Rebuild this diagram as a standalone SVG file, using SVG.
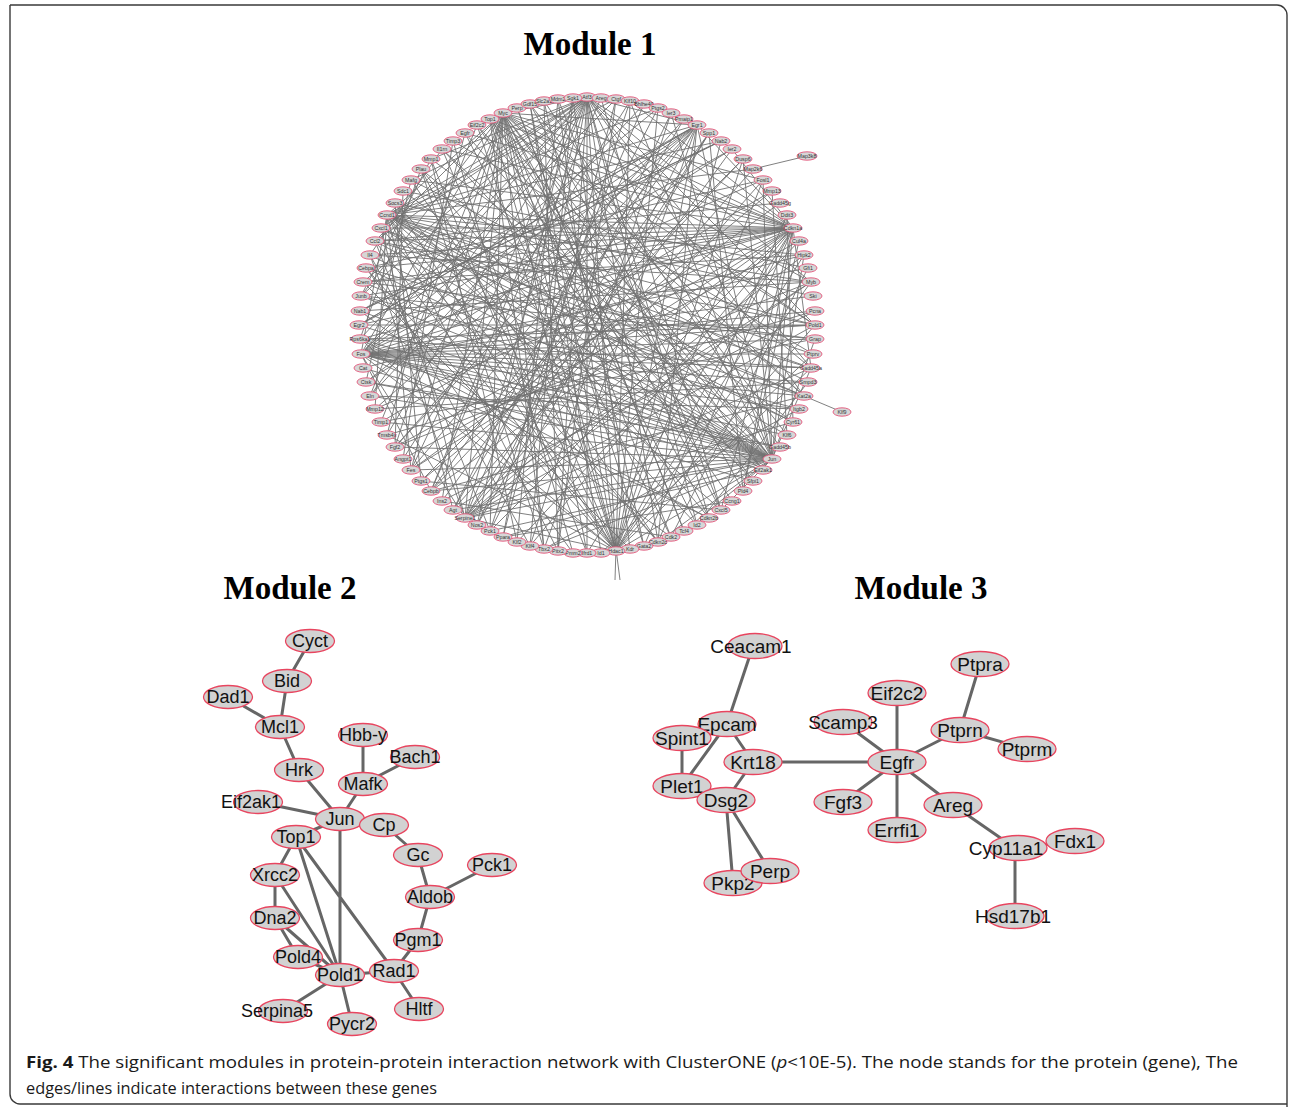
<svg xmlns="http://www.w3.org/2000/svg" width="1290" height="1107" viewBox="0 0 1290 1107">
<style>
.bg{fill:#fff}
.frame{fill:none;stroke:#3a3a3a;stroke-width:1.4}
.title{font-family:"Liberation Serif","Times New Roman",serif;font-weight:bold;font-size:33px;fill:#000;text-anchor:middle}
.e1{fill:none;stroke:#727272;stroke-width:0.9}
.m1 ellipse{fill:#d6d6d6;stroke:#e4567a;stroke-width:0.9}
.m1 text{font-family:"Liberation Sans",Arial,sans-serif;font-size:5.3px;fill:#333;text-anchor:middle;dominant-baseline:central}
.e2{fill:none;stroke:#666;stroke-width:3}
.m2 ellipse{fill:#d2d2d2;stroke:#e8455f;stroke-width:1.3}
.m2 text{font-family:"Liberation Sans",Arial,sans-serif;font-size:18px;fill:#111;text-anchor:middle;dominant-baseline:central}
.m3 ellipse{fill:#d2d2d2;stroke:#e8455f;stroke-width:1.3}
.m3 text{font-family:"Liberation Sans",Arial,sans-serif;font-size:19px;fill:#111;text-anchor:middle;dominant-baseline:central}
.cap{font-family:"Open Sans","Noto Sans","Liberation Sans",sans-serif;font-size:16.5px;fill:#1a1a1a}
</style>
<rect class="bg" x="0" y="0" width="1290" height="1107"/>
<path class="frame" d="M10 5 H1277 A10 10 0 0 1 1287 15 V1107 M10 5 V1094 A10 10 0 0 0 20 1104 H1287"/>

<text class="title" x="590" y="55">Module 1</text>
<text class="title" x="290" y="599">Module 2</text>
<text class="title" x="921" y="599">Module 3</text>

<g id="module1-edges">
<path class="e1" d="M387 215L587 97M387 215L697 125M387 215L793 228M387 215L815 325M387 215L804 396M387 215L772 459M387 215L616 551M387 215L465 518M387 215L503 113M387 215L361 354M387 215L721 510M387 215L811 368M387 215L753 169M387 215L811 282M387 215L658 542M387 215L558 551M387 215L658 108M387 215L793 422M387 215L763 470M387 215L804 255M387 215L721 141M387 215L411 470M387 215L375 409M387 215L616 99M387 215L813 354M387 215L787 435"/>
<path class="e1" d="M361 354L587 97M361 354L697 125M361 354L793 228M361 354L815 325M361 354L811 368M361 354L804 396M361 354L772 459M361 354L763 470M361 354L616 551M361 354L503 113M361 354L732 149M361 354L763 180M361 354L808 268M361 354L813 296M361 354L815 339M361 354L813 354M361 354L799 409M361 354L787 435M361 354L709 518M361 354L465 518M361 354L431 491M361 354L658 108M361 354L616 99M361 354L815 311M361 354L808 382M361 354L780 447"/>
<path class="e1" d="M360 339L772 459M360 339L815 325M360 339L793 228M360 339L587 97M360 339L616 551M360 339L811 368M359 325L721 141M359 325L697 125M359 325L772 459M359 325L793 228M359 325L815 325M360 311L721 141M360 311L697 125M360 311L811 282M360 311L772 459M361 296L772 459M361 296L587 97M361 296L793 228M361 296L815 339M361 296L503 113M363 282L793 228M363 282L772 459M363 282L587 97M363 282L804 255M366 268L793 228M366 268L772 459M366 268L804 396M366 268L616 551M370 255L772 459M370 255L793 228M370 255L465 518M370 255L811 282M375 241L793 228M375 241L772 459M375 241L815 325M375 241L587 97M375 241L616 551M375 241L503 113M375 241L811 368M381 228L793 228M381 228L772 459M381 228L587 97M381 228L804 396M381 228L658 542M381 228L793 422"/>
<path class="e1" d="M772 459L587 97M772 459L503 113M772 459L465 518M772 459L616 551M772 459L431 491M772 459L411 470M772 459L381 422M772 459L370 396M772 459L503 537M772 459L793 228M772 459L697 125M772 459L743 159M772 459L763 180M772 459L811 368M772 459L815 339M772 459L804 255M772 459L477 125M772 459L421 169M772 459L544 549M772 459L658 542M772 459L684 531M772 459L721 510M772 459L403 191M772 459L442 149M772 459L453 510M772 459L395 447M772 459L366 382M772 459L630 101M772 459L671 113"/>
<path class="e1" d="M793 228L587 97M793 228L503 113M793 228L616 551M793 228L465 518M793 228L490 119M793 228L442 149M793 228L375 409M793 228L411 470M793 228L490 531M793 228L811 368M793 228L658 542M793 228L587 553M793 228L411 180M793 228L697 125M793 228L630 101M793 228L732 149M793 228L431 491M793 228L395 447M793 228L530 546M793 228L465 133M793 228L530 104M793 228L721 510M793 228L743 491"/>
<path class="e1" d="M587 97L616 551M587 97L465 518M587 97L558 551M587 97L658 542M587 97L697 525M587 97L431 491M587 97L387 435M587 97L811 368M587 97L811 282M587 97L697 125M587 97L503 113M587 97L431 159M587 97L587 553M587 97L503 537M587 97L411 470M587 97L709 518M587 97L804 396M587 97L815 325M587 97L370 396M587 97L411 180"/>
<path class="e1" d="M503 113L616 551M503 113L815 325M503 113L811 368M503 113L804 396M503 113L811 282M503 113L709 518M503 113L644 546M503 113L544 549M503 113L465 518M503 113L411 470M503 113L381 422M503 113L697 125M503 113L763 180M503 113L763 470M503 113L721 510M503 113L671 537M503 113L587 553M503 113L490 531M503 113L442 501M503 113L395 447"/>
<path class="e1" d="M616 551L477 125M616 551L442 149M616 551L811 282M616 551L811 368M616 551L387 435M616 551L743 159M616 551L658 108M616 551L697 125M616 551L465 518M616 551L421 169M616 551L395 203M616 551L763 180M616 551L804 255M616 551L815 325M616 551L530 104M616 551L721 141M558 99L620 580M630 101L615 580"/>
<path class="e1" d="M465 518L815 325M465 518L732 149M465 518L644 104M465 518L811 282M465 518L811 368M465 518L793 422M465 518L763 180M465 518L709 133M465 518L804 255M697 125L490 531M697 125L411 470M697 125L658 542M697 125L431 491M697 125L359 325M697 125L395 447M697 125L375 409M697 125L544 549M697 125L366 382M490 119L772 459M490 119L815 325M490 119L616 551M490 119L697 525M490 119L544 549M490 119L804 396M490 119L753 481"/>
<path class="e1" d="M616 99L558 551M630 101L403 459M644 104L370 396M658 108L453 510M671 113L530 546M684 119L395 447M709 133L477 525M721 141L360 311M732 149L366 382M743 159L421 481M753 169L453 510M763 180L366 268M772 191L381 422M780 203L375 241M787 215L644 546M799 241L517 542M804 255L363 368M808 268L403 191M811 282L453 510M813 296L395 203M815 311L442 501M815 339L363 282M813 354L453 141M808 382L411 180M804 396L431 491M799 409L361 296M793 422L431 159M787 435L530 104M780 447L544 101M763 470L465 133M753 481L442 149M743 491L530 104M732 501L477 125M721 510L558 99M709 518L421 169M697 525L395 203M684 531L517 108M671 537L465 133M658 542L411 180M644 546L544 101M630 549L573 98M601 553L530 104M587 553L431 159M573 553L453 141M558 551L544 101M544 549L421 169M530 546L573 98M517 542L431 159M503 537L616 99M490 531L630 101M477 525L671 113M453 510L684 119M442 501L709 133M431 491L743 159M421 481L772 191M411 470L780 203M403 459L799 241M395 447L811 282M387 435L815 311M381 422L815 339M375 409L808 382M370 396L799 409M366 382L780 447M363 368L753 481M360 339L709 518M360 311L671 537M363 282L630 549M366 268L573 553M370 255L530 546M375 241L490 531M381 228L453 510M395 203L421 481M403 191L395 447M411 180L366 382M421 169L360 339M431 159L361 296M442 149L370 255M453 141L403 459M465 133L387 435M477 125L370 396M517 108L684 531M558 99L517 542M573 98L477 525M601 98L721 510M601 98L431 491M709 133L743 491M772 191L787 435M787 215L793 422M799 241L743 491M808 268L671 537M813 354L601 553M808 382L697 525M799 409L544 549M763 470L490 531M732 501L503 537M721 510L421 481M671 537L442 501"/>
<path class="e1" d="M753 169L807 156M804 396L842 412"/>
</g>

<g id="module1-nodes">
<g id="m1-Atf3" class="m1"><ellipse cx="587" cy="97" rx="9" ry="4.2"/><text x="587" y="97">Atf3</text></g>
<g id="m1-Areg" class="m1"><ellipse cx="601" cy="98" rx="9" ry="4.2"/><text x="601" y="98">Areg</text></g>
<g id="m1-Ctgf" class="m1"><ellipse cx="616" cy="99" rx="9" ry="4.2"/><text x="616" y="99">Ctgf</text></g>
<g id="m1-Klf10" class="m1"><ellipse cx="630" cy="101" rx="9" ry="4.2"/><text x="630" y="101">Klf10</text></g>
<g id="m1-Bhlhe40" class="m1"><ellipse cx="644" cy="104" rx="9" ry="4.2"/><text x="644" y="104">Bhlhe40</text></g>
<g id="m1-Ptgs2" class="m1"><ellipse cx="658" cy="108" rx="9" ry="4.2"/><text x="658" y="108">Ptgs2</text></g>
<g id="m1-Ier3" class="m1"><ellipse cx="671" cy="113" rx="9" ry="4.2"/><text x="671" y="113">Ier3</text></g>
<g id="m1-Pmaip1" class="m1"><ellipse cx="684" cy="119" rx="9" ry="4.2"/><text x="684" y="119">Pmaip1</text></g>
<g id="m1-Egr1" class="m1"><ellipse cx="697" cy="125" rx="9" ry="4.2"/><text x="697" y="125">Egr1</text></g>
<g id="m1-Spp1" class="m1"><ellipse cx="709" cy="133" rx="9" ry="4.2"/><text x="709" y="133">Spp1</text></g>
<g id="m1-Nab2" class="m1"><ellipse cx="721" cy="141" rx="9" ry="4.2"/><text x="721" y="141">Nab2</text></g>
<g id="m1-Ier2" class="m1"><ellipse cx="732" cy="149" rx="9" ry="4.2"/><text x="732" y="149">Ier2</text></g>
<g id="m1-Dusp6" class="m1"><ellipse cx="743" cy="159" rx="9" ry="4.2"/><text x="743" y="159">Dusp6</text></g>
<g id="m1-Map2k6" class="m1"><ellipse cx="753" cy="169" rx="9" ry="4.2"/><text x="753" y="169">Map2k6</text></g>
<g id="m1-Fosl1" class="m1"><ellipse cx="763" cy="180" rx="9" ry="4.2"/><text x="763" y="180">Fosl1</text></g>
<g id="m1-Mmp13" class="m1"><ellipse cx="772" cy="191" rx="9" ry="4.2"/><text x="772" y="191">Mmp13</text></g>
<g id="m1-Gadd45g" class="m1"><ellipse cx="780" cy="203" rx="9" ry="4.2"/><text x="780" y="203">Gadd45g</text></g>
<g id="m1-Ddit3" class="m1"><ellipse cx="787" cy="215" rx="9" ry="4.2"/><text x="787" y="215">Ddit3</text></g>
<g id="m1-Cdkn1a" class="m1"><ellipse cx="793" cy="228" rx="9" ry="4.2"/><text x="793" y="228">Cdkn1a</text></g>
<g id="m1-Cul4a" class="m1"><ellipse cx="799" cy="241" rx="9" ry="4.2"/><text x="799" y="241">Cul4a</text></g>
<g id="m1-Hipk2" class="m1"><ellipse cx="804" cy="255" rx="9" ry="4.2"/><text x="804" y="255">Hipk2</text></g>
<g id="m1-Gfi1" class="m1"><ellipse cx="808" cy="268" rx="9" ry="4.2"/><text x="808" y="268">Gfi1</text></g>
<g id="m1-Myb" class="m1"><ellipse cx="811" cy="282" rx="9" ry="4.2"/><text x="811" y="282">Myb</text></g>
<g id="m1-Ski" class="m1"><ellipse cx="813" cy="296" rx="9" ry="4.2"/><text x="813" y="296">Ski</text></g>
<g id="m1-Pcna" class="m1"><ellipse cx="815" cy="311" rx="9" ry="4.2"/><text x="815" y="311">Pcna</text></g>
<g id="m1-Pold1" class="m1"><ellipse cx="815" cy="325" rx="9" ry="4.2"/><text x="815" y="325">Pold1</text></g>
<g id="m1-Grap" class="m1"><ellipse cx="815" cy="339" rx="9" ry="4.2"/><text x="815" y="339">Grap</text></g>
<g id="m1-Ptprv" class="m1"><ellipse cx="813" cy="354" rx="9" ry="4.2"/><text x="813" y="354">Ptprv</text></g>
<g id="m1-Gadd45a" class="m1"><ellipse cx="811" cy="368" rx="9" ry="4.2"/><text x="811" y="368">Gadd45a</text></g>
<g id="m1-Smpd3" class="m1"><ellipse cx="808" cy="382" rx="9" ry="4.2"/><text x="808" y="382">Smpd3</text></g>
<g id="m1-Kat2a" class="m1"><ellipse cx="804" cy="396" rx="9" ry="4.2"/><text x="804" y="396">Kat2a</text></g>
<g id="m1-Itgb2" class="m1"><ellipse cx="799" cy="409" rx="9" ry="4.2"/><text x="799" y="409">Itgb2</text></g>
<g id="m1-Cyr61" class="m1"><ellipse cx="793" cy="422" rx="9" ry="4.2"/><text x="793" y="422">Cyr61</text></g>
<g id="m1-Klf6" class="m1"><ellipse cx="787" cy="435" rx="9" ry="4.2"/><text x="787" y="435">Klf6</text></g>
<g id="m1-Gadd45b" class="m1"><ellipse cx="780" cy="447" rx="9" ry="4.2"/><text x="780" y="447">Gadd45b</text></g>
<g id="m1-Jun" class="m1"><ellipse cx="772" cy="459" rx="9" ry="4.2"/><text x="772" y="459">Jun</text></g>
<g id="m1-Eif2ak1" class="m1"><ellipse cx="763" cy="470" rx="9" ry="4.2"/><text x="763" y="470">Eif2ak1</text></g>
<g id="m1-Sfpi1" class="m1"><ellipse cx="753" cy="481" rx="9" ry="4.2"/><text x="753" y="481">Sfpi1</text></g>
<g id="m1-Pld4" class="m1"><ellipse cx="743" cy="491" rx="9" ry="4.2"/><text x="743" y="491">Pld4</text></g>
<g id="m1-Ccng1" class="m1"><ellipse cx="732" cy="501" rx="9" ry="4.2"/><text x="732" y="501">Ccng1</text></g>
<g id="m1-Cxcl5" class="m1"><ellipse cx="721" cy="510" rx="9" ry="4.2"/><text x="721" y="510">Cxcl5</text></g>
<g id="m1-Cdkn2b" class="m1"><ellipse cx="709" cy="518" rx="9" ry="4.2"/><text x="709" y="518">Cdkn2b</text></g>
<g id="m1-Id2" class="m1"><ellipse cx="697" cy="525" rx="9" ry="4.2"/><text x="697" y="525">Id2</text></g>
<g id="m1-Tcf4" class="m1"><ellipse cx="684" cy="531" rx="9" ry="4.2"/><text x="684" y="531">Tcf4</text></g>
<g id="m1-Cdk2" class="m1"><ellipse cx="671" cy="537" rx="9" ry="4.2"/><text x="671" y="537">Cdk2</text></g>
<g id="m1-Cdkn2c" class="m1"><ellipse cx="658" cy="542" rx="9" ry="4.2"/><text x="658" y="542">Cdkn2c</text></g>
<g id="m1-Gata2" class="m1"><ellipse cx="644" cy="546" rx="9" ry="4.2"/><text x="644" y="546">Gata2</text></g>
<g id="m1-Kdr" class="m1"><ellipse cx="630" cy="549" rx="9" ry="4.2"/><text x="630" y="549">Kdr</text></g>
<g id="m1-Hdac1" class="m1"><ellipse cx="616" cy="551" rx="9" ry="4.2"/><text x="616" y="551">Hdac1</text></g>
<g id="m1-Id1" class="m1"><ellipse cx="601" cy="553" rx="9" ry="4.2"/><text x="601" y="553">Id1</text></g>
<g id="m1-Ifrd1" class="m1"><ellipse cx="587" cy="553" rx="9" ry="4.2"/><text x="587" y="553">Ifrd1</text></g>
<g id="m1-Pmm2" class="m1"><ellipse cx="573" cy="553" rx="9" ry="4.2"/><text x="573" y="553">Pmm2</text></g>
<g id="m1-Pitx2" class="m1"><ellipse cx="558" cy="551" rx="9" ry="4.2"/><text x="558" y="551">Pitx2</text></g>
<g id="m1-Tbx2" class="m1"><ellipse cx="544" cy="549" rx="9" ry="4.2"/><text x="544" y="549">Tbx2</text></g>
<g id="m1-Klf4" class="m1"><ellipse cx="530" cy="546" rx="9" ry="4.2"/><text x="530" y="546">Klf4</text></g>
<g id="m1-Klf2" class="m1"><ellipse cx="517" cy="542" rx="9" ry="4.2"/><text x="517" y="542">Klf2</text></g>
<g id="m1-Ppara" class="m1"><ellipse cx="503" cy="537" rx="9" ry="4.2"/><text x="503" y="537">Ppara</text></g>
<g id="m1-Pck1" class="m1"><ellipse cx="490" cy="531" rx="9" ry="4.2"/><text x="490" y="531">Pck1</text></g>
<g id="m1-Nos2" class="m1"><ellipse cx="477" cy="525" rx="9" ry="4.2"/><text x="477" y="525">Nos2</text></g>
<g id="m1-Serpine1" class="m1"><ellipse cx="465" cy="518" rx="9" ry="4.2"/><text x="465" y="518">Serpine1</text></g>
<g id="m1-Agt" class="m1"><ellipse cx="453" cy="510" rx="9" ry="4.2"/><text x="453" y="510">Agt</text></g>
<g id="m1-Ins2" class="m1"><ellipse cx="442" cy="501" rx="9" ry="4.2"/><text x="442" y="501">Ins2</text></g>
<g id="m1-Cebpb" class="m1"><ellipse cx="431" cy="491" rx="9" ry="4.2"/><text x="431" y="491">Cebpb</text></g>
<g id="m1-Ptgs1" class="m1"><ellipse cx="421" cy="481" rx="9" ry="4.2"/><text x="421" y="481">Ptgs1</text></g>
<g id="m1-Fes" class="m1"><ellipse cx="411" cy="470" rx="9" ry="4.2"/><text x="411" y="470">Fes</text></g>
<g id="m1-Angpt1" class="m1"><ellipse cx="403" cy="459" rx="9" ry="4.2"/><text x="403" y="459">Angpt1</text></g>
<g id="m1-Fgf2" class="m1"><ellipse cx="395" cy="447" rx="9" ry="4.2"/><text x="395" y="447">Fgf2</text></g>
<g id="m1-Tmsb4x" class="m1"><ellipse cx="387" cy="435" rx="9" ry="4.2"/><text x="387" y="435">Tmsb4x</text></g>
<g id="m1-Timp1" class="m1"><ellipse cx="381" cy="422" rx="9" ry="4.2"/><text x="381" y="422">Timp1</text></g>
<g id="m1-Mmp12" class="m1"><ellipse cx="375" cy="409" rx="9" ry="4.2"/><text x="375" y="409">Mmp12</text></g>
<g id="m1-Eln" class="m1"><ellipse cx="370" cy="396" rx="9" ry="4.2"/><text x="370" y="396">Eln</text></g>
<g id="m1-Ctsk" class="m1"><ellipse cx="366" cy="382" rx="9" ry="4.2"/><text x="366" y="382">Ctsk</text></g>
<g id="m1-Cat" class="m1"><ellipse cx="363" cy="368" rx="9" ry="4.2"/><text x="363" y="368">Cat</text></g>
<g id="m1-Fos" class="m1"><ellipse cx="361" cy="354" rx="9" ry="4.2"/><text x="361" y="354">Fos</text></g>
<g id="m1-Rps6ka1" class="m1"><ellipse cx="360" cy="339" rx="9" ry="4.2"/><text x="360" y="339">Rps6ka1</text></g>
<g id="m1-Egr2" class="m1"><ellipse cx="359" cy="325" rx="9" ry="4.2"/><text x="359" y="325">Egr2</text></g>
<g id="m1-Nab1" class="m1"><ellipse cx="360" cy="311" rx="9" ry="4.2"/><text x="360" y="311">Nab1</text></g>
<g id="m1-Junb" class="m1"><ellipse cx="361" cy="296" rx="9" ry="4.2"/><text x="361" y="296">Junb</text></g>
<g id="m1-Crem" class="m1"><ellipse cx="363" cy="282" rx="9" ry="4.2"/><text x="363" y="282">Crem</text></g>
<g id="m1-Cebpa" class="m1"><ellipse cx="366" cy="268" rx="9" ry="4.2"/><text x="366" y="268">Cebpa</text></g>
<g id="m1-Il4" class="m1"><ellipse cx="370" cy="255" rx="9" ry="4.2"/><text x="370" y="255">Il4</text></g>
<g id="m1-Ccl2" class="m1"><ellipse cx="375" cy="241" rx="9" ry="4.2"/><text x="375" y="241">Ccl2</text></g>
<g id="m1-Cxcl1" class="m1"><ellipse cx="381" cy="228" rx="9" ry="4.2"/><text x="381" y="228">Cxcl1</text></g>
<g id="m1-Ccnd1" class="m1"><ellipse cx="387" cy="215" rx="9" ry="4.2"/><text x="387" y="215">Ccnd1</text></g>
<g id="m1-Socs3" class="m1"><ellipse cx="395" cy="203" rx="9" ry="4.2"/><text x="395" y="203">Socs3</text></g>
<g id="m1-Sdc1" class="m1"><ellipse cx="403" cy="191" rx="9" ry="4.2"/><text x="403" y="191">Sdc1</text></g>
<g id="m1-Mafg" class="m1"><ellipse cx="411" cy="180" rx="9" ry="4.2"/><text x="411" y="180">Mafg</text></g>
<g id="m1-Plau" class="m1"><ellipse cx="421" cy="169" rx="9" ry="4.2"/><text x="421" y="169">Plau</text></g>
<g id="m1-Mmp1" class="m1"><ellipse cx="431" cy="159" rx="9" ry="4.2"/><text x="431" y="159">Mmp1</text></g>
<g id="m1-Il1rn" class="m1"><ellipse cx="442" cy="149" rx="9" ry="4.2"/><text x="442" y="149">Il1rn</text></g>
<g id="m1-Timp3" class="m1"><ellipse cx="453" cy="141" rx="9" ry="4.2"/><text x="453" y="141">Timp3</text></g>
<g id="m1-Egfr" class="m1"><ellipse cx="465" cy="133" rx="9" ry="4.2"/><text x="465" y="133">Egfr</text></g>
<g id="m1-Eif2c2" class="m1"><ellipse cx="477" cy="125" rx="9" ry="4.2"/><text x="477" y="125">Eif2c2</text></g>
<g id="m1-Top1" class="m1"><ellipse cx="490" cy="119" rx="9" ry="4.2"/><text x="490" y="119">Top1</text></g>
<g id="m1-Myc" class="m1"><ellipse cx="503" cy="113" rx="9" ry="4.2"/><text x="503" y="113">Myc</text></g>
<g id="m1-Perp" class="m1"><ellipse cx="517" cy="108" rx="9" ry="4.2"/><text x="517" y="108">Perp</text></g>
<g id="m1-Gdf15" class="m1"><ellipse cx="530" cy="104" rx="9" ry="4.2"/><text x="530" y="104">Gdf15</text></g>
<g id="m1-Slc2a1" class="m1"><ellipse cx="544" cy="101" rx="9" ry="4.2"/><text x="544" y="101">Slc2a1</text></g>
<g id="m1-Mdm2" class="m1"><ellipse cx="558" cy="99" rx="9" ry="4.2"/><text x="558" y="99">Mdm2</text></g>
<g id="m1-Sgk1" class="m1"><ellipse cx="573" cy="98" rx="9" ry="4.2"/><text x="573" y="98">Sgk1</text></g>
<g id="m1-Map3k8" class="m1"><ellipse cx="807" cy="156" rx="10" ry="4.2"/><text x="807" y="156">Map3k8</text></g>
<g id="m1-Klf9" class="m1"><ellipse cx="842" cy="412" rx="9" ry="4.2"/><text x="842" y="412">Klf9</text></g>
</g>

<g id="module2-edges">
<path class="e2" d="M310 641L287 681M287 681L280 727M228 697L280 727M280 727L299 770M299 770L340 819M363 735L363 784M415 757L363 784M363 784L340 819M258 802L340 819M340 819L384 825M340 819L296 837M340 819L340 975M296 837L394 971M296 837L340 975M384 825L418 855M418 855L430 897M430 897L492 865M430 897L418 940M418 940L394 971M394 971L340 975M394 971L419 1009M296 837L275 875M275 875L275 918M275 875L340 975M275 918L298 957M275 918L340 975M298 957L340 975M340 975L283 1011M340 975L352 1024"/>
</g>
<g id="module2-nodes">
<g id="m2-Cyct" class="m2"><ellipse cx="310" cy="641" rx="24.5" ry="11.5"/><text x="310" y="641">Cyct</text></g>
<g id="m2-Bid" class="m2"><ellipse cx="287" cy="681" rx="24.5" ry="11.5"/><text x="287" y="681">Bid</text></g>
<g id="m2-Dad1" class="m2"><ellipse cx="228" cy="697" rx="24.5" ry="11.5"/><text x="228" y="697">Dad1</text></g>
<g id="m2-Mcl1" class="m2"><ellipse cx="280" cy="727" rx="24.5" ry="11.5"/><text x="280" y="727">Mcl1</text></g>
<g id="m2-Hbb-y" class="m2"><ellipse cx="363" cy="735" rx="24.5" ry="11.5"/><text x="363" y="735">Hbb-y</text></g>
<g id="m2-Bach1" class="m2"><ellipse cx="415" cy="757" rx="24.5" ry="11.5"/><text x="415" y="757">Bach1</text></g>
<g id="m2-Hrk" class="m2"><ellipse cx="299" cy="770" rx="24.5" ry="11.5"/><text x="299" y="770">Hrk</text></g>
<g id="m2-Mafk" class="m2"><ellipse cx="363" cy="784" rx="24.5" ry="11.5"/><text x="363" y="784">Mafk</text></g>
<g id="m2-Eif2ak1" class="m2"><ellipse cx="258" cy="802" rx="24.5" ry="11.5"/><text x="251" y="802">Eif2ak1</text></g>
<g id="m2-Jun" class="m2"><ellipse cx="340" cy="819" rx="24.5" ry="11.5"/><text x="340" y="819">Jun</text></g>
<g id="m2-Cp" class="m2"><ellipse cx="384" cy="825" rx="24.5" ry="11.5"/><text x="384" y="825">Cp</text></g>
<g id="m2-Top1" class="m2"><ellipse cx="296" cy="837" rx="24.5" ry="11.5"/><text x="296" y="837">Top1</text></g>
<g id="m2-Gc" class="m2"><ellipse cx="418" cy="855" rx="24.5" ry="11.5"/><text x="418" y="855">Gc</text></g>
<g id="m2-Pck1" class="m2"><ellipse cx="492" cy="865" rx="24.5" ry="11.5"/><text x="492" y="865">Pck1</text></g>
<g id="m2-Xrcc2" class="m2"><ellipse cx="275" cy="875" rx="24.5" ry="11.5"/><text x="275" y="875">Xrcc2</text></g>
<g id="m2-Aldob" class="m2"><ellipse cx="430" cy="897" rx="24.5" ry="11.5"/><text x="430" y="897">Aldob</text></g>
<g id="m2-Dna2" class="m2"><ellipse cx="275" cy="918" rx="24.5" ry="11.5"/><text x="275" y="918">Dna2</text></g>
<g id="m2-Pgm1" class="m2"><ellipse cx="418" cy="940" rx="24.5" ry="11.5"/><text x="418" y="940">Pgm1</text></g>
<g id="m2-Pold4" class="m2"><ellipse cx="298" cy="957" rx="24.5" ry="11.5"/><text x="298" y="957">Pold4</text></g>
<g id="m2-Rad1" class="m2"><ellipse cx="394" cy="971" rx="24.5" ry="11.5"/><text x="394" y="971">Rad1</text></g>
<g id="m2-Pold1" class="m2"><ellipse cx="340" cy="975" rx="24.5" ry="11.5"/><text x="340" y="975">Pold1</text></g>
<g id="m2-Hltf" class="m2"><ellipse cx="419" cy="1009" rx="24.5" ry="11.5"/><text x="419" y="1009">Hltf</text></g>
<g id="m2-Serpina5" class="m2"><ellipse cx="283" cy="1011" rx="24.5" ry="11.5"/><text x="277" y="1011">Serpina5</text></g>
<g id="m2-Pycr2" class="m2"><ellipse cx="352" cy="1024" rx="24.5" ry="11.5"/><text x="352" y="1024">Pycr2</text></g>
</g>

<g id="module3-edges">
<path class="e2" d="M753 646L727 724M727 724L682 786M727 724L753 762M682 738L682 786M753 762L726 800M753 762L897 762M726 800L733 883M726 800L770 871M843 722L897 762M897 693L897 762M843 802L897 762M897 830L897 762M897 762L960 730M960 730L980 664M960 730L1027 749M897 762L953 805M953 805L1015 848M1015 848L1075 841M1015 848L1015 916"/>
</g>
<g id="module3-nodes">
<g id="m3-Ceacam1" class="m3"><ellipse cx="755" cy="646" rx="27" ry="12.5"/><text x="751" y="646">Ceacam1</text></g>
<g id="m3-Epcam" class="m3"><ellipse cx="727" cy="724" rx="29" ry="12.5"/><text x="727" y="724">Epcam</text></g>
<g id="m3-Spint1" class="m3"><ellipse cx="682" cy="738" rx="29" ry="12.5"/><text x="682" y="738">Spint1</text></g>
<g id="m3-Krt18" class="m3"><ellipse cx="753" cy="762" rx="29" ry="12.5"/><text x="753" y="762">Krt18</text></g>
<g id="m3-Plet1" class="m3"><ellipse cx="682" cy="786" rx="29" ry="12.5"/><text x="682" y="786">Plet1</text></g>
<g id="m3-Dsg2" class="m3"><ellipse cx="726" cy="800" rx="29" ry="12.5"/><text x="726" y="800">Dsg2</text></g>
<g id="m3-Pkp2" class="m3"><ellipse cx="733" cy="883" rx="29" ry="12.5"/><text x="733" y="883">Pkp2</text></g>
<g id="m3-Perp" class="m3"><ellipse cx="770" cy="871" rx="29" ry="12.5"/><text x="770" y="871">Perp</text></g>
<g id="m3-Scamp3" class="m3"><ellipse cx="843" cy="722" rx="29" ry="12.5"/><text x="843" y="722">Scamp3</text></g>
<g id="m3-Eif2c2" class="m3"><ellipse cx="897" cy="693" rx="29" ry="12.5"/><text x="897" y="693">Eif2c2</text></g>
<g id="m3-Egfr" class="m3"><ellipse cx="897" cy="762" rx="29" ry="12.5"/><text x="897" y="762">Egfr</text></g>
<g id="m3-Fgf3" class="m3"><ellipse cx="843" cy="802" rx="29" ry="12.5"/><text x="843" y="802">Fgf3</text></g>
<g id="m3-Errfi1" class="m3"><ellipse cx="897" cy="830" rx="29" ry="12.5"/><text x="897" y="830">Errfi1</text></g>
<g id="m3-Ptpra" class="m3"><ellipse cx="980" cy="664" rx="29" ry="12.5"/><text x="980" y="664">Ptpra</text></g>
<g id="m3-Ptprn" class="m3"><ellipse cx="960" cy="730" rx="29" ry="12.5"/><text x="960" y="730">Ptprn</text></g>
<g id="m3-Ptprm" class="m3"><ellipse cx="1027" cy="749" rx="29" ry="12.5"/><text x="1027" y="749">Ptprm</text></g>
<g id="m3-Areg" class="m3"><ellipse cx="953" cy="805" rx="29" ry="12.5"/><text x="953" y="805">Areg</text></g>
<g id="m3-Cyp11a1" class="m3"><ellipse cx="1018" cy="848" rx="29" ry="12.5"/><text x="1006" y="848">Cyp11a1</text></g>
<g id="m3-Fdx1" class="m3"><ellipse cx="1075" cy="841" rx="29" ry="12.5"/><text x="1075" y="841">Fdx1</text></g>
<g id="m3-Hsd17b1" class="m3"><ellipse cx="1015" cy="916" rx="29" ry="12.5"/><text x="1013" y="916">Hsd17b1</text></g>
</g>

<text class="cap" x="26" y="1068" textLength="1212" lengthAdjust="spacingAndGlyphs"><tspan font-weight="bold">Fig. 4</tspan> The significant modules in protein-protein interaction network with ClusterONE (<tspan font-style="italic">p</tspan>&lt;10E-5). The node stands for the protein (gene), The</text>
<text class="cap" x="26" y="1094" textLength="411" lengthAdjust="spacingAndGlyphs">edges/lines indicate interactions between these genes</text>
</svg>
